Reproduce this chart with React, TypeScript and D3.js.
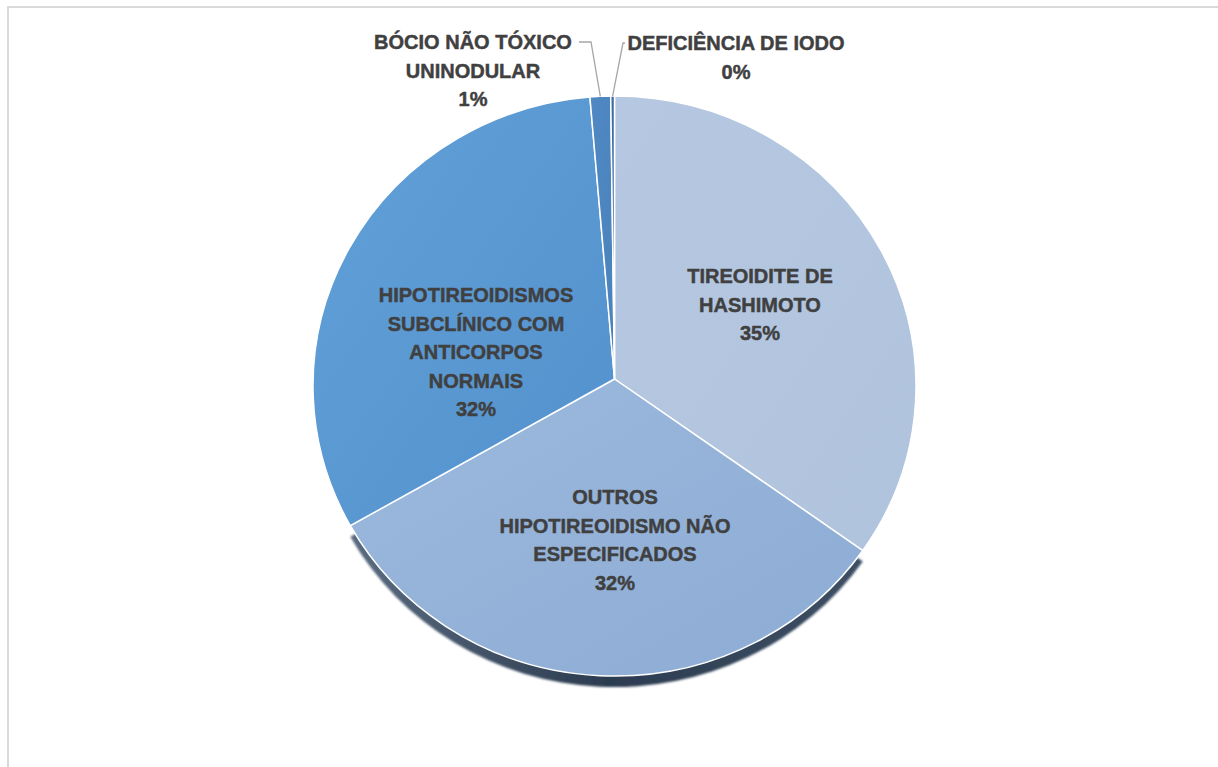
import React from "react";
import * as d3 from "d3";

const categories = [
  "TIREOIDITE DE HASHIMOTO",
  "OUTROS HIPOTIREOIDISMO NÃO ESPECIFICADOS",
  "HIPOTIREOIDISMOS SUBCLÍNICO COM ANTICORPOS NORMAIS",
  "BÓCIO NÃO TÓXICO UNINODULAR",
  "DEFICIÊNCIA DE IODO",
];
const values = [34.6, 32.4, 31.7, 1.1, 0.2];
const labelLines = [
  ["TIREOIDITE DE", "HASHIMOTO"],
  ["OUTROS", "HIPOTIREOIDISMO NÃO", "ESPECIFICADOS"],
  ["HIPOTIREOIDISMOS", "SUBCLÍNICO COM", "ANTICORPOS", "NORMAIS"],
  ["BÓCIO NÃO TÓXICO", "UNINODULAR"],
  ["DEFICIÊNCIA DE IODO"],
];
const colorsTop = ["#b6c8e1", "#9cb9dd", "#62a0d8", "#4f88c2", "#3d6fa6"];
const colorsBottom = ["#b0c3dd", "#8dacd4", "#5391cd", "#4a82bc", "#3a6a9f"];

const W = 1218;
const H = 767;
const cx = 614.5;
const cy = 386;
const rx = 301.5;
const ry = 290;
const apex = { x: 614.5, y: 379 };

const labelPos = [
  { x: 760, y: 276 },
  { x: 615, y: 497 },
  { x: 476, y: 295 },
  { x: 473, y: 42 },
  { x: 736, y: 43 },
];
const lineH = 28.6;

function pt(a: number) {
  return { x: cx + rx * Math.sin(a), y: cy - ry * Math.cos(a) };
}

function slicePath(a0: number, a1: number, dy = 0) {
  const p0 = pt(a0);
  const p1 = pt(a1);
  const large = a1 - a0 > Math.PI ? 1 : 0;
  return `M${apex.x},${apex.y + dy}L${p0.x},${p0.y + dy}A${rx},${ry} 0 ${large} 1 ${p1.x},${p1.y + dy}Z`;
}

export default function App() {
  const pie = d3.pie<number>().sort(null).value((d) => d);
  const arcs = pie(values);
  const total = d3.sum(values);
  const fmt = d3.format(".0%");
  const outros = arcs[1];

  return (
    <svg
      width={W}
      height={H}
      style={{ position: "absolute", left: 0, top: 0, background: "#fff" }}
      fontFamily="'Liberation Sans', Arial, sans-serif"
    >
      <defs>
        {arcs.map((a, i) => (
          <linearGradient key={i} id={`g${i}`} x1="0" y1="0" x2="1" y2="1">
            <stop offset="0%" stopColor={colorsTop[i]} />
            <stop offset="100%" stopColor={colorsBottom[i]} />
          </linearGradient>
        ))}
        <linearGradient id="shadowG" x1="0" y1="0" x2="1" y2="0">
          <stop offset="0%" stopColor="#5a6b80" />
          <stop offset="50%" stopColor="#2c3c50" />
          <stop offset="100%" stopColor="#3e4f64" />
        </linearGradient>
        <filter id="blur" x="-10%" y="-10%" width="120%" height="120%">
          <feGaussianBlur stdDeviation="1.3" />
        </filter>
      </defs>
      <rect x={8} y={7} width={W} height={H} fill="#fff" stroke="#d9d9d9" strokeWidth={2} />

      <path
        d={slicePath(outros.startAngle, outros.endAngle, 11)}
        fill="url(#shadowG)"
        filter="url(#blur)"
      />

      {arcs.map((a, i) => (
        <path
          key={categories[i]}
          d={slicePath(a.startAngle, a.endAngle)}
          fill={`url(#g${i})`}
          stroke="#ffffff"
          strokeWidth={1.5}
          strokeLinejoin="round"
        />
      ))}

      {[3, 4].map((i) => {
        const a = arcs[i];
        const m = pt((a.startAngle + a.endAngle) / 2);
        const lp = labelPos[i];
        const pts =
          i === 3
            ? [
                [lp.x + 106, lp.y],
                [lp.x + 118, lp.y],
                [m.x, m.y],
              ]
            : [
                [lp.x - 111, lp.y],
                [lp.x - 113, lp.y],
                [m.x, m.y],
              ];
        return (
          <polyline
            key={`l${i}`}
            points={pts.map((p) => p.join(",")).join(" ")}
            fill="none"
            stroke="#a6a6a6"
            strokeWidth={1.3}
          />
        );
      })}

      {arcs.map((a, i) => {
        const lp = labelPos[i];
        const lines = [...labelLines[i], fmt(values[i] / total)];
        return (
          <text
            key={`t${i}`}
            textAnchor="middle"
            fontWeight="bold"
            fontSize={20}
            fill="#404040"
            stroke="#404040"
            strokeWidth={0.45}
          >
            {lines.map((s, k) => (
              <tspan key={k} x={lp.x} y={lp.y + k * lineH} dominantBaseline="central">
                {s}
              </tspan>
            ))}
          </text>
        );
      })}
    </svg>
  );
}
